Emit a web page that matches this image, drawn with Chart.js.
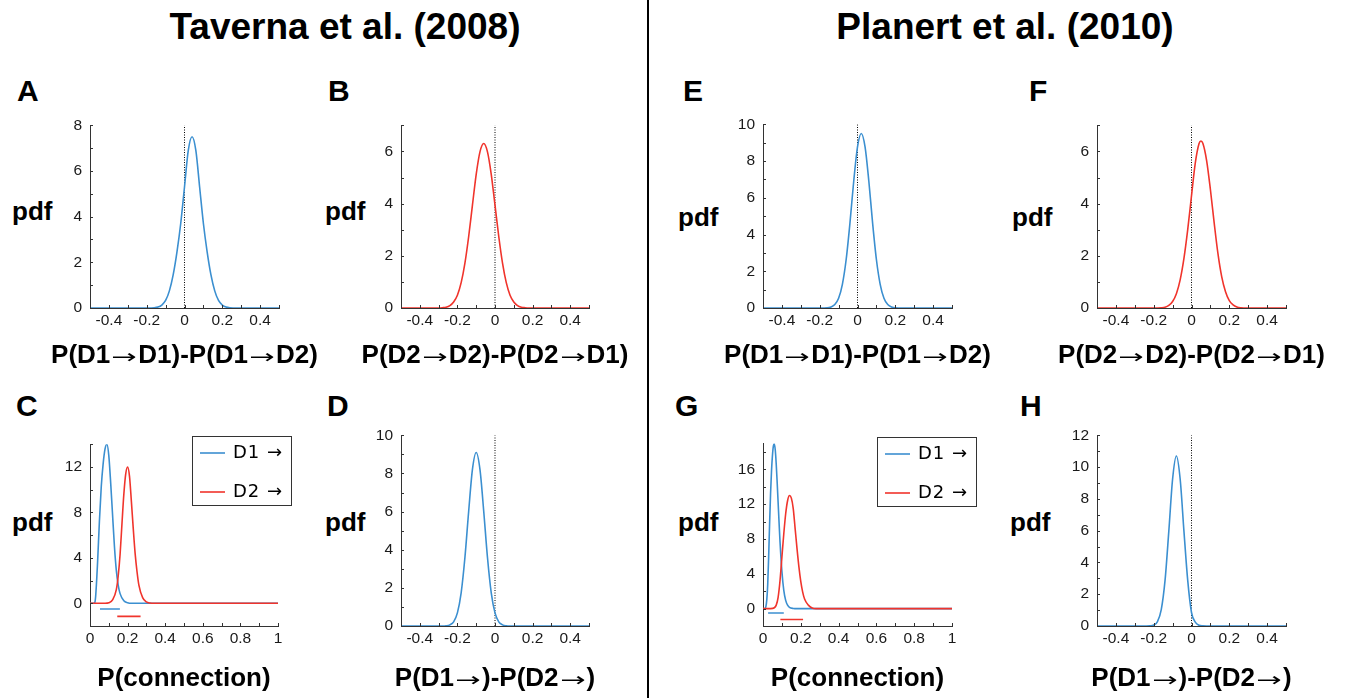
<!DOCTYPE html>
<html>
<head>
<meta charset="utf-8">
<script src="https://cdn.jsdelivr.net/npm/chart.js@4.4.1/dist/chart.umd.min.js"></script>
<style>
  body { margin: 0; width: 1346px; height: 698px; background: #fff; position: relative; overflow: hidden;
         font-family: "Liberation Sans", Arial, sans-serif; }
  .t { position: absolute; font-weight: bold; color: #000; line-height: 1; white-space: nowrap; }
  .big { font-size: 37px; text-align: center; }
  .let { font-size: 30px; }
  .pdf { font-size: 26px; }
  .xt { font-size: 26px; text-align: center; width: 400px; }
  .arr { display: inline-block; font-family: "DejaVu Sans", sans-serif; font-weight: normal; font-size: 19px;
         transform: scaleX(1.6); margin: 0 6px; }
  canvas { position: absolute; }
</style>
</head>
<body>
<div class="t big" style="left:0;width:690px;top:8px">Taverna et al. (2008)</div>
<div class="t big" style="left:664px;width:682px;top:8px">Planert et al. (2010)</div>
<div style="position:absolute;left:647px;top:0;width:2px;height:698px;background:#000"></div>

<div class="t let" style="left:17px;top:76px">A</div>
<div class="t let" style="left:328px;top:76px">B</div>
<div class="t let" style="left:683px;top:76px">E</div>
<div class="t let" style="left:1029px;top:76px">F</div>
<div class="t let" style="left:16px;top:391px">C</div>
<div class="t let" style="left:327px;top:391px">D</div>
<div class="t let" style="left:675px;top:391px">G</div>
<div class="t let" style="left:1020px;top:391px">H</div>

<div class="t pdf" style="left:12px;top:198px">pdf</div>
<div class="t pdf" style="left:325px;top:198px">pdf</div>
<div class="t pdf" style="left:678px;top:204px">pdf</div>
<div class="t pdf" style="left:1012px;top:204px">pdf</div>
<div class="t pdf" style="left:12px;top:509px">pdf</div>
<div class="t pdf" style="left:325px;top:509px">pdf</div>
<div class="t pdf" style="left:678px;top:509px">pdf</div>
<div class="t pdf" style="left:1010px;top:509px">pdf</div>

<canvas id="cA"></canvas><canvas id="cB"></canvas><canvas id="cE"></canvas><canvas id="cF"></canvas>
<canvas id="cC"></canvas><canvas id="cD"></canvas><canvas id="cG"></canvas><canvas id="cH"></canvas>

<script>
// colours
const BLUE = '#3b8fd0';
const RED = '#f0342c';
const AXIS = '#333333';

// tick values and labels
const diffTicks = [-0.5, -0.4, -0.3, -0.2, -0.1, 0, 0.1, 0.2, 0.3, 0.4, 0.5];
const diffLabels = ['', '-0.4', '', '-0.2', '', '0', '', '0.2', '', '0.4', ''];
const connTicks = [0, 0.1, 0.2, 0.3, 0.4, 0.5, 0.6, 0.7, 0.8, 0.9, 1];
const connLabels = ['0', '', '0.2', '', '0.4', '', '0.6', '', '0.8', '', '1'];
const yTicks8 = [0, 1, 2, 3, 4, 5, 6, 7, 8];
const yLabels8 = ['0', '', '2', '', '4', '', '6', '', '8'];
const yTicks7 = [0, 1, 2, 3, 4, 5, 6, 7];
const yLabels7 = ['0', '', '2', '', '4', '', '6', ''];
const yTicks10 = [0, 1, 2, 3, 4, 5, 6, 7, 8, 9, 10];
const yLabels10 = ['0', '', '2', '', '4', '', '6', '', '8', '', '10'];
const yTicks12 = [0, 1, 2, 3, 4, 5, 6, 7, 8, 9, 10, 11, 12];
const yLabels12 = ['0', '', '2', '', '4', '', '6', '', '8', '', '10', '', '12'];
const yTicksC = [-2, 0, 2, 4, 6, 8, 10, 12, 14];
const yLabelsC = ['', '0', '', '4', '', '8', '', '12', ''];
const yTicksG = [-2, 0, 2, 4, 6, 8, 10, 12, 14, 16, 18];
const yLabelsG = ['', '0', '', '4', '', '8', '', '12', '', '16', ''];

const legendLabels = ['D1 →', 'D2 →'];

// A: P(D1->D1)-P(D1->D2), Taverna
const xA = [-0.5, -0.2, -0.16, -0.14, -0.12, -0.10, -0.08, -0.06, -0.04, -0.02, 0, 0.02, 0.04, 0.06, 0.08, 0.10, 0.12, 0.14, 0.16, 0.18, 0.20, 0.22, 0.24, 0.28, 0.5];
const pdfA = [0, 0, 0.01, 0.04, 0.13, 0.33, 0.75, 1.45, 2.45, 3.7, 5.3, 6.9, 7.5, 6.9, 5.3, 3.7, 2.45, 1.45, 0.75, 0.33, 0.13, 0.04, 0.01, 0, 0];

// B: P(D2->D2)-P(D2->D1), Taverna
const xB = [-0.5, -0.30, -0.28, -0.26, -0.24, -0.22, -0.20, -0.18, -0.16, -0.14, -0.12, -0.10, -0.08, -0.06, -0.04, -0.02, 0, 0.02, 0.04, 0.06, 0.08, 0.10, 0.12, 0.14, 0.16, 0.18, 0.5];
const pdfB = [0, 0, 0.01, 0.03, 0.09, 0.23, 0.49, 0.97, 1.72, 2.74, 3.94, 5.12, 5.98, 6.3, 5.98, 5.12, 3.94, 2.74, 1.72, 0.97, 0.49, 0.23, 0.09, 0.03, 0.01, 0, 0];

// C: P(connection), Taverna
const xC1 = [0, 0.02, 0.025, 0.03, 0.04, 0.05, 0.06, 0.07, 0.08, 0.09, 0.10, 0.11, 0.12, 0.13, 0.14, 0.15, 0.16, 0.18, 0.20, 0.22, 0.25, 1];
const pdfC1 = [0, 0, 0.05, 0.6, 3.5, 7.2, 10.3, 12.3, 13.6, 14.0, 13.0, 10.6, 7.8, 5.0, 2.9, 1.6, 0.85, 0.22, 0.05, 0, 0, 0];
const xC2 = [0, 0.08, 0.10, 0.12, 0.14, 0.15, 0.16, 0.17, 0.18, 0.19, 0.20, 0.21, 0.22, 0.23, 0.24, 0.25, 0.26, 0.28, 0.30, 0.32, 0.34, 1];
const pdfC2 = [0, 0, 0.05, 0.3, 1.2, 2.4, 4.3, 7.0, 9.6, 11.4, 12.0, 11.2, 9.0, 6.6, 4.4, 2.8, 1.6, 0.5, 0.12, 0.02, 0, 0];
const ciC1 = [0.053, 0.159], ciC1y = -0.5;
const ciC2 = [0.145, 0.269], ciC2y = -1.15;

// D: P(D1->)-P(D2->), Taverna
const xD = [-0.5, -0.30, -0.28, -0.26, -0.24, -0.22, -0.20, -0.18, -0.16, -0.14, -0.12, -0.10, -0.08, -0.06, -0.04, -0.02, 0, 0.02, 0.04, 0.06, 0.08, 0.5];
const pdfD = [0, 0, 0, 0.01, 0.06, 0.22, 0.69, 1.74, 3.59, 6.02, 8.21, 9.1, 8.21, 6.02, 3.59, 1.74, 0.69, 0.22, 0.06, 0.01, 0, 0];

// E: P(D1->D1)-P(D1->D2), Planert
const xE = [-0.5, -0.2, -0.16, -0.14, -0.12, -0.10, -0.08, -0.06, -0.04, -0.02, 0, 0.02, 0.04, 0.06, 0.08, 0.10, 0.12, 0.14, 0.16, 0.18, 0.20, 0.24, 0.5];
const pdfE = [0, 0, 0.01, 0.06, 0.19, 0.53, 1.29, 2.64, 4.62, 6.9, 8.77, 9.5, 8.77, 6.9, 4.62, 2.64, 1.29, 0.53, 0.19, 0.06, 0.01, 0, 0];

// F: P(D2->D2)-P(D2->D1), Planert
const xF = [-0.5, -0.2, -0.16, -0.14, -0.12, -0.10, -0.08, -0.06, -0.04, -0.02, 0, 0.02, 0.04, 0.05, 0.06, 0.08, 0.10, 0.12, 0.14, 0.16, 0.18, 0.20, 0.22, 0.24, 0.26, 0.30, 0.5];
const pdfF = [0, 0, 0.01, 0.03, 0.1, 0.25, 0.55, 1.08, 1.9, 3.0, 4.3, 5.55, 6.3, 6.4, 6.31, 5.65, 4.54, 3.26, 2.08, 1.19, 0.62, 0.28, 0.12, 0.04, 0.01, 0, 0];

// G: P(connection), Planert
const xG1 = [0, 0.01, 0.015, 0.02, 0.025, 0.03, 0.035, 0.04, 0.045, 0.05, 0.055, 0.06, 0.065, 0.07, 0.075, 0.08, 0.085, 0.09, 0.10, 0.11, 0.12, 0.13, 0.14, 0.16, 0.18, 1];
const pdfG1 = [0, 0, 0.2, 1.0, 2.8, 6.0, 9.8, 13.2, 15.8, 17.6, 18.7, 18.9, 18.2, 16.6, 14.5, 12.2, 9.9, 7.7, 4.3, 2.1, 0.95, 0.4, 0.15, 0.02, 0, 0];
const xG2 = [0, 0.04, 0.06, 0.07, 0.08, 0.09, 0.10, 0.11, 0.12, 0.13, 0.14, 0.15, 0.16, 0.17, 0.18, 0.19, 0.20, 0.21, 0.22, 0.24, 0.26, 0.28, 1];
const pdfG2 = [0, 0, 0.1, 0.4, 1.3, 3.2, 5.9, 8.6, 10.9, 12.4, 13.0, 12.7, 11.5, 9.2, 6.9, 4.8, 3.1, 1.9, 1.1, 0.4, 0.08, 0, 0];
const ciG1 = [0.027, 0.11], ciG1y = -0.5;
const ciG2 = [0.092, 0.212], ciG2y = -1.25;

// H: P(D1->)-P(D2->), Planert
const xH = [-0.5, -0.24, -0.22, -0.20, -0.18, -0.16, -0.14, -0.12, -0.10, -0.08, -0.06, -0.04, -0.02, 0, 0.02, 0.04, 0.06, 0.08, 0.5];
const pdfH = [0, 0, 0.01, 0.06, 0.28, 1.03, 2.87, 5.97, 9.25, 10.7, 9.25, 5.97, 2.87, 0.85, 0.24, 0.05, 0.01, 0, 0];

function pts(xs, ys) {
  return xs.map((x, i) => ({ x: x, y: ys[i] }));
}

function curve(xs, ys, color) {
  return { data: pts(xs, ys), borderColor: color, borderWidth: 1.6, cubicInterpolationMode: 'monotone' };
}

function ciBar(range, yv, color) {
  return { data: [{ x: range[0], y: yv }, { x: range[1], y: yv }], borderColor: color, borderWidth: 1.6 };
}

function zeroLine(yMax) {
  return { data: [{ x: 0, y: 0 }, { x: 0, y: yMax }], borderColor: '#000', borderWidth: 1, borderDash: [1, 1.5] };
}

// small inward tick marks like the original figure
const tickMarks = {
  id: 'tickMarks',
  afterDraw(chart) {
    const { ctx, chartArea: a, scales } = chart;
    ctx.save();
    ctx.strokeStyle = AXIS;
    ctx.lineWidth = 1;
    ctx.beginPath();
    scales.x.ticks.forEach(t => {
      const px = Math.round(scales.x.getPixelForValue(t.value)) + 0.5;
      ctx.moveTo(px, a.bottom);
      ctx.lineTo(px, a.bottom - 3);
    });
    scales.y.ticks.forEach(t => {
      const py = Math.round(scales.y.getPixelForValue(t.value)) + 0.5;
      ctx.moveTo(a.left, py);
      ctx.lineTo(a.left + 3, py);
    });
    ctx.stroke();
    ctx.restore();
  }
};

// boxed legend drawn inside the plot
const boxLegend = {
  id: 'boxLegend',
  afterDraw(chart, args, opts) {
    if (!opts || !opts.w) return;
    const { ctx, chartArea: a } = chart;
    const x0 = Math.round(a.left + opts.dx), y0 = Math.round(a.top + opts.dy);
    ctx.save();
    ctx.fillStyle = '#fff';
    ctx.fillRect(x0, y0, opts.w, opts.h);
    ctx.strokeStyle = AXIS;
    ctx.lineWidth = 1;
    ctx.strokeRect(x0 + 0.5, y0 + 0.5, opts.w, opts.h);
    [BLUE, RED].forEach((c, i) => {
      const cy = y0 + 17 + i * 39;
      ctx.strokeStyle = c;
      ctx.lineWidth = 1.6;
      ctx.beginPath();
      ctx.moveTo(x0 + 8, cy);
      ctx.lineTo(x0 + 33, cy);
      ctx.stroke();
      ctx.fillStyle = '#000';
      ctx.font = '18px "DejaVu Sans"';
      ctx.letterSpacing = '1px';
      ctx.textBaseline = 'middle';
      ctx.fillText(legendLabels[i], x0 + 41, cy);
    });
    ctx.restore();
  }
};

const panels = [
  { id: 'cA', box: [90, 279, 120, 308], hx: 59, x: [-0.5, 0.5, diffTicks, diffLabels], y: [0, 8, yTicks8, yLabels8],
    title: 'P(D1→D1)-P(D1→D2)', sets: [curve(xA, pdfA, BLUE), zeroLine(8)] },
  { id: 'cB', box: [401, 589, 120, 308], hx: 59, x: [-0.5, 0.5, diffTicks, diffLabels], y: [0, 7, yTicks7, yLabels7],
    title: 'P(D2→D2)-P(D2→D1)', sets: [curve(xB, pdfB, RED), zeroLine(7)] },
  { id: 'cE', box: [763, 952, 119, 308], hx: 59, x: [-0.5, 0.5, diffTicks, diffLabels], y: [0, 10, yTicks10, yLabels10],
    title: 'P(D1→D1)-P(D1→D2)', sets: [curve(xE, pdfE, BLUE), zeroLine(10)] },
  { id: 'cF', box: [1097, 1286, 120, 308], hx: 59, x: [-0.5, 0.5, diffTicks, diffLabels], y: [0, 7, yTicks7, yLabels7],
    title: 'P(D2→D2)-P(D2→D1)', sets: [curve(xF, pdfF, RED), zeroLine(7)] },
  { id: 'cC', box: [90, 278, 439, 626], hx: 65, x: [0, 1, connTicks, connLabels], y: [-2, 14, yTicksC, yLabelsC],
    title: 'P(connection)', legend: { dx: 102, dy: -8, w: 99, h: 69 },
    sets: [curve(xC2, pdfC2, RED), curve(xC1, pdfC1, BLUE), ciBar(ciC1, ciC1y, BLUE), ciBar(ciC2, ciC2y, RED)] },
  { id: 'cD', box: [401, 589, 430, 626], hx: 65, x: [-0.5, 0.5, diffTicks, diffLabels], y: [0, 10, yTicks10, yLabels10],
    title: 'P(D1→)-P(D2→)', sets: [curve(xD, pdfD, BLUE), zeroLine(10)] },
  { id: 'cG', box: [763, 952, 438, 626], hx: 65, x: [0, 1, connTicks, connLabels], y: [-2, 19, yTicksG, yLabelsG],
    title: 'P(connection)', legend: { dx: 114, dy: -6, w: 99, h: 69 },
    sets: [curve(xG2, pdfG2, RED), curve(xG1, pdfG1, BLUE), ciBar(ciG1, ciG1y, BLUE), ciBar(ciG2, ciG2y, RED)] },
  { id: 'cH', box: [1097, 1286, 430, 626], hx: 65, x: [-0.5, 0.5, diffTicks, diffLabels], y: [0, 12, yTicks12, yLabels12],
    title: 'P(D1→)-P(D2→)', sets: [curve(xH, pdfH, BLUE), zeroLine(12)] }
];

Chart.defaults.font.family = '"Liberation Sans", Arial, sans-serif';

panels.forEach(p => {
  const [l, r, t, b] = p.box;
  const cv = document.getElementById(p.id);
  const w = r - l + 140, h = b - t + 12 + p.hx;
  cv.width = w; cv.height = h;
  cv.style.left = (l - 80) + 'px';
  cv.style.top = (t - 12) + 'px';
  cv.style.width = w + 'px';
  cv.style.height = h + 'px';

  // axis title as html text, so the arrow can use a thinner glyph
  const tt = document.createElement('div');
  tt.className = 't xt';
  tt.style.left = ((l + r) / 2 - 200) + 'px';
  tt.style.top = (b < 400 ? 341 : 664) + 'px';
  tt.innerHTML = p.title.split('→').join('<span class="arr">→</span>');
  document.body.appendChild(tt);

  const [xMin, xMax, xTicks, xLabels] = p.x;
  const [yMin, yMax, yTicks, yLabels] = p.y;

  new Chart(cv, {
    type: 'line',
    data: { datasets: p.sets },
    options: {
      responsive: false,
      animation: false,
      events: [],
      layout: { padding: { top: 12, right: 60, left: 0, bottom: 0 } },
      elements: { point: { radius: 0 } },
      plugins: {
        legend: { display: false },
        tooltip: { enabled: false },
        boxLegend: p.legend || {}
      },
      scales: {
        x: {
          type: 'linear', min: xMin, max: xMax,
          grid: { display: false, drawTicks: false },
          border: { display: true, color: AXIS, width: 1 },
          afterBuildTicks: s => { s.ticks = xTicks.map(v => ({ value: v })); },
          afterFit: s => { s.height = p.hx; },
          ticks: { autoSkip: false, maxRotation: 0, padding: 3, color: '#1a1a1a', font: { size: 15.5 },
                   callback: (v, i) => xLabels[i] }
        },
        y: {
          type: 'linear', min: yMin, max: yMax,
          grid: { display: false, drawTicks: false },
          border: { display: true, color: AXIS, width: 1 },
          afterBuildTicks: s => { s.ticks = yTicks.map(v => ({ value: v })); },
          afterFit: s => { s.width = 80; },
          ticks: { autoSkip: false, padding: 8, color: '#1a1a1a', font: { size: 15.5 },
                   callback: (v, i) => yLabels[i] }
        }
      }
    },
    plugins: [tickMarks, boxLegend]
  });
});
</script>
</body>
</html>
